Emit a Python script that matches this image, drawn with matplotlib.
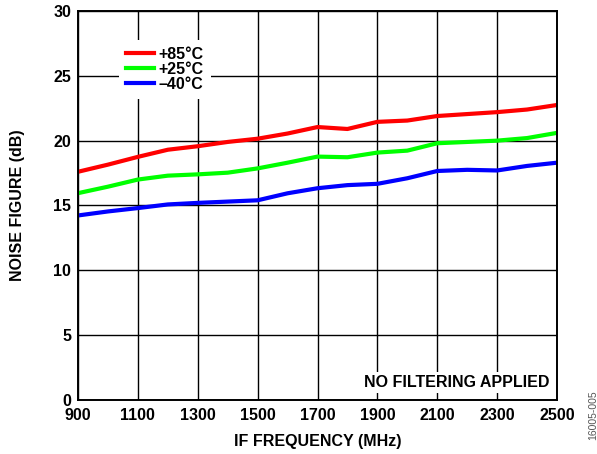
import numpy as np
import matplotlib.pyplot as plt

plt.rcParams['font.family'] = ['Liberation Sans', 'DejaVu Sans']
plt.rcParams['font.weight'] = 'bold'

freq = np.arange(900, 2501, 100)
nf_85 = [17.6, 18.15, 18.75, 19.3, 19.57, 19.9, 20.15, 20.55, 21.05, 20.9,
         21.45, 21.55, 21.9, 22.05, 22.2, 22.4, 22.75]
nf_25 = [15.95, 16.45, 17.0, 17.3, 17.4, 17.53, 17.86, 18.3, 18.77, 18.72,
         19.08, 19.23, 19.8, 19.9, 20.0, 20.2, 20.6]
nf_m40 = [14.23, 14.54, 14.8, 15.08, 15.2, 15.3, 15.4, 15.94, 16.33, 16.57,
          16.67, 17.1, 17.66, 17.75, 17.7, 18.05, 18.3]

fig = plt.figure(figsize=(5.97, 4.54), dpi=100)
ax = fig.add_axes([0.1307, 0.119, 0.8023, 0.8568])

ax.plot(freq, nf_85, color='#ff0000', lw=3, label='+85°C', solid_joinstyle='round')
ax.plot(freq, nf_25, color='#00ff00', lw=3, label='+25°C', solid_joinstyle='round')
ax.plot(freq, nf_m40, color='#0000ff', lw=3, label='\u201340°C', solid_joinstyle='round')

ax.set_xlim(900, 2500)
ax.set_ylim(0, 30)
ax.set_xticks(np.arange(900, 2501, 200))
ax.set_yticks(np.arange(0, 31, 5))
ax.grid(True, color='black', lw=1.0)
ax.tick_params(axis='y', length=0, labelsize=11.5, pad=5)
ax.tick_params(axis='x', length=0, labelsize=11.5, pad=6)
for s in ax.spines.values():
    s.set_linewidth(1.4)

ax.set_xlabel('IF FREQUENCY (MHz)', fontsize=11.5, fontweight='bold', labelpad=8)
ax.set_ylabel('NOISE FIGURE (dB)', fontsize=11.5, fontweight='bold', labelpad=20)

leg = ax.legend(loc='upper left', bbox_to_anchor=(0.068, 0.947), frameon=True,
                fancybox=False, edgecolor='none', facecolor='white', framealpha=1,
                fontsize=11.5, handlelength=1.75, handletextpad=0.3,
                labelspacing=0.0, borderpad=0.45)

ax.text(0.985, 0.045, 'NO FILTERING APPLIED', transform=ax.transAxes,
        ha='right', va='center', fontsize=11.5, fontweight='bold',
        bbox=dict(fc='white', ec='none', pad=2))

fig.text(0.993, 0.14, '16005-005', rotation=90, ha='center', va='top',
         fontsize=7.5, color='#555555', fontweight='normal')

fig.savefig('out.png', dpi=100)
